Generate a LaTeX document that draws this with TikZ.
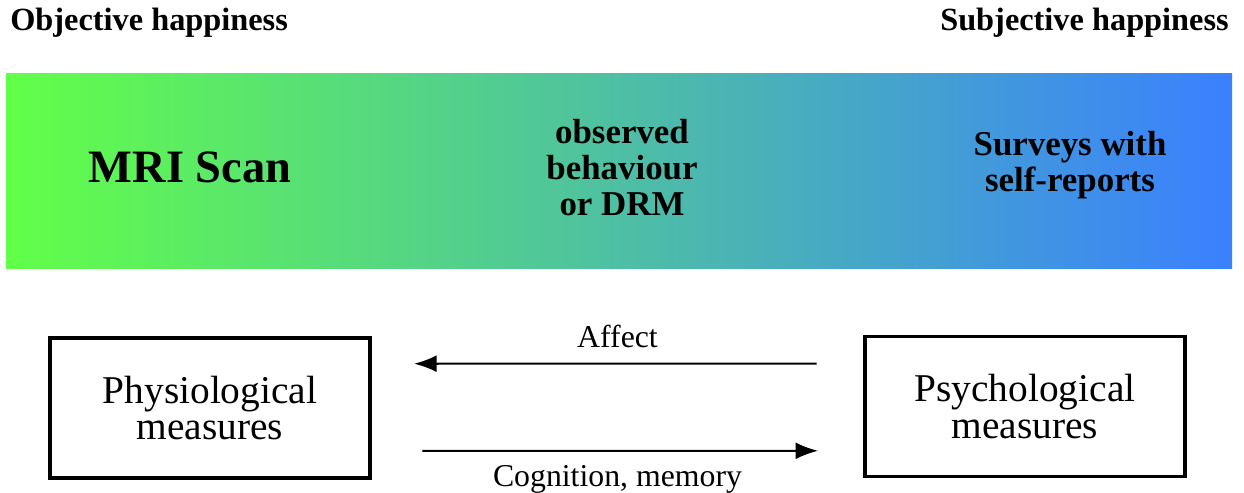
\documentclass[tikz,border=0pt]{standalone}
\usepackage{fontspec}
\setmainfont{Liberation Serif}
\usetikzlibrary{arrows.meta,positioning}
\definecolor{objgreen}{RGB}{98,255,72}
\definecolor{subjblue}{RGB}{58,128,255}
\tikzset{measure/.style={draw, line width=2.6pt, minimum width=8cm, minimum height=3.5cm, align=center, font=\fontsize{28}{26}\selectfont}}
\tikzset{bartext/.style={align=center, font=\bfseries\fontsize{24.8}{25.6}\selectfont}}
\tikzset{headtext/.style={font=\bfseries\fontsize{23}{24}\selectfont, inner sep=0pt}}
\tikzset{arr/.style={draw, line width=1.5pt, -{Latex[length=16pt,width=12pt]}}}

\begin{document}
\begin{tikzpicture}[x=0.025cm,y=-0.025cm]
			\useasboundingbox (0,0) rectangle (1244,493);
			\node[headtext,anchor=west] (obj) at (10,23){Objective happiness};
			\node[headtext,anchor=east] (subj) at (1229,23){Subjective happiness};
			
			% the scale from objective to subjective
			\shade[left color=objgreen, right color=subjblue] (6,73) rectangle (1232,268);
			\node[bartext,font=\bfseries\fontsize{33}{36}\selectfont] (mri) at (190,167){MRI Scan};
			\node[bartext] (drm) at (622,168){observed\\behaviour\\or DRM};
			\node[bartext] (survey) at (1070,165){Surveys with\\self-reports};
			
			\node[measure] (phy) at (210,408){Physiological\\measures};
			\node[measure] (psy) at (1025,406.5){Psychological\\measures};
			
			\begin{scope}[font=\fontsize{22.6}{24}\selectfont]
				\draw[arr, shorten <=33pt, shorten >=30pt] ([yshift=30.5pt]psy.west) -- ([yshift=31.5pt]phy.east)
					node[midway, above=7pt]{Affect};
				\draw[arr, shorten <=36pt, shorten >=32pt] ([yshift=-30.5pt]phy.east) -- ([yshift=-31.5pt]psy.west)
					node[midway, below=6pt]{Cognition, memory};
			\end{scope}
		\end{tikzpicture}
\end{document}
